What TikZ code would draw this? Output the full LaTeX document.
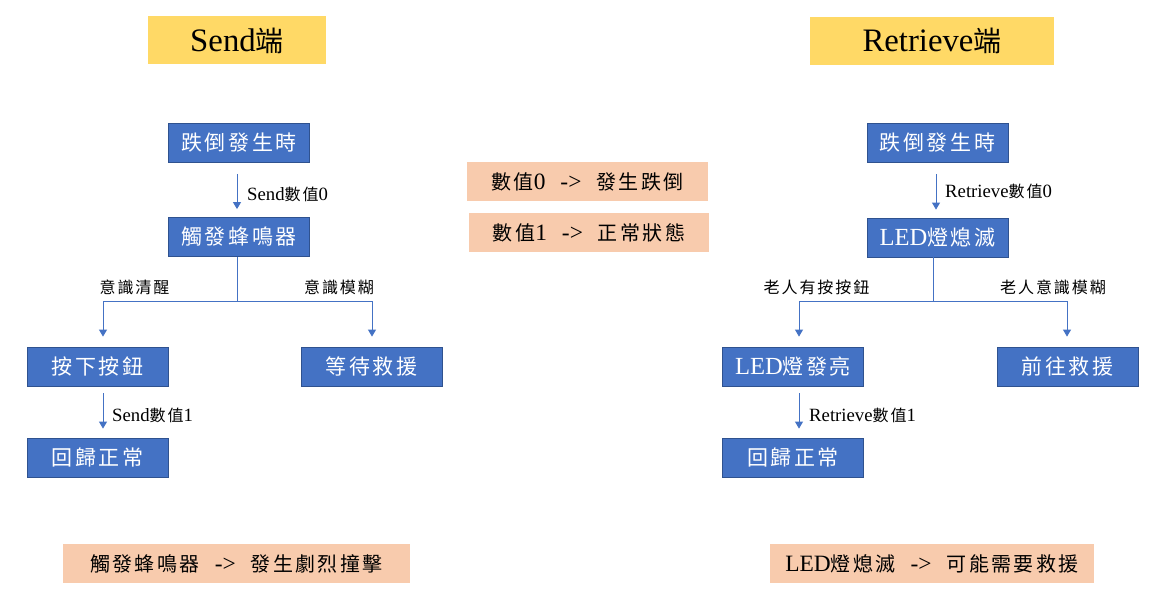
\documentclass[tikz,border=0pt]{standalone}
\usepackage{fontspec}
\setmainfont{Liberation Serif}[Scale=1.17]
\newfontfamily\cj{Noto Sans CJK TC}[LetterSpace=12]
\usetikzlibrary{arrows.meta}
\definecolor{boxblue}{HTML}{4472C4}
\definecolor{edgeblue}{HTML}{2F528F}
\definecolor{titleyellow}{HTML}{FFD966}
\definecolor{notepeach}{HTML}{F8CBAD}
\newcommand{\arrowsep}{\hspace{15pt}->\hspace{15pt}}
\tikzset{
  stepbox/.style={draw=edgeblue, line width=0.8pt, fill=boxblue, text=white,
    minimum width=141pt, minimum height=39pt, inner sep=0pt,
    font=\fontsize{21}{24}\selectfont},
  titlebox/.style={fill=titleyellow, minimum height=48pt, inner sep=0pt,
    font=\fontsize{28}{32}\selectfont},
  notebox/.style={fill=notepeach, minimum height=39pt, inner sep=0pt,
    font=\fontsize{20}{24}\selectfont},
  lbl/.style={inner sep=0pt, font=\fontsize{16}{19}\selectfont},
  conn/.style={draw=boxblue, line width=0.9pt},
  arr/.style={conn, -{Triangle[width=8pt,length=7pt]}}
}
\begin{document}
\begin{tikzpicture}[x=1pt,y=-1pt]
\useasboundingbox (0,0) rectangle (1166,607);

% headings
\node[titlebox, minimum width=178pt] (tsend) at (237,40.5) {Send{\cj 端}};
\node[titlebox, minimum width=244pt] (tret) at (932,41) {Retrieve{\cj 端}};

% Send side
\node[stepbox] (s1) at (239,143) {\cj 跌倒發生時};
\node[stepbox] (s2) at (239,237) {\cj 觸發蜂鳴器};
\node[stepbox] (s3) at (97.5,366.5) {\cj 按下按鈕};
\node[stepbox] (s4) at (371.5,366.5) {\cj 等待救援};
\node[stepbox] (s5) at (97.5,457.5) {\cj 回歸正常};

\coordinate (ssplit) at (237,301);
\draw[arr] ([xshift=-2pt,yshift=-11pt]s1.south) -- ([xshift=-2pt,yshift=8pt]s2.north);
\draw[conn] ([xshift=-2pt]s2.south) -- (ssplit);
\draw[arr] (ssplit) -| ([xshift=5.5pt,yshift=10pt]s3.north);
\draw[arr] (ssplit) -| ([xshift=0.5pt,yshift=10pt]s4.north);
\draw[arr] ([xshift=5.5pt,yshift=-7pt]s3.south) -- ([xshift=5.5pt,yshift=9pt]s5.north);

\node[lbl, anchor=west] (l1) at (247,194) {Send{\cj 數值}0};
\node[lbl] (l2) at (134.5,287) {\cj 意識清醒};
\node[lbl] (l3) at (339,287) {\cj 意識模糊};
\node[lbl, anchor=west] (l4) at (112,415) {Send{\cj 數值}1};

% Retrieve side
\node[stepbox] (r1) at (937.5,143) {\cj 跌倒發生時};
\node[stepbox] (r2) at (937.5,237.5) {LED{\cj 燈熄滅}};
\node[stepbox] (r3) at (793,366.5) {LED{\cj 燈發亮}};
\node[stepbox] (r4) at (1067.5,366.5) {\cj 前往救援};
\node[stepbox] (r5) at (793,457.5) {\cj 回歸正常};

\coordinate (rsplit) at (933,301);
\draw[arr] ([xshift=-1.5pt,yshift=-11pt]r1.south) -- ([xshift=-1.5pt,yshift=8pt]r2.north);
\draw[conn] ([xshift=-4.5pt]r2.south) -- (rsplit);
\draw[arr] (rsplit) -| ([xshift=6pt,yshift=10pt]r3.north);
\draw[arr] (rsplit) -| ([xshift=-0.5pt,yshift=10pt]r4.north);
\draw[arr] ([xshift=6pt,yshift=-7pt]r3.south) -- ([xshift=6pt,yshift=9pt]r5.north);

\node[lbl, anchor=west] (m1) at (945,191) {Retrieve{\cj 數值}0};
\node[lbl] (m2) at (816.5,287) {\cj 老人有按按鈕};
\node[lbl] (m3) at (1053,287) {\cj 老人意識模糊};
\node[lbl, anchor=west] (m4) at (809,415) {Retrieve{\cj 數值}1};

% value legend
\node[notebox, minimum width=241pt] (n1) at (587.5,181.5)
  {{\cj 數值}0\arrowsep{\cj 發生跌倒}};
\node[notebox, minimum width=240pt] (n2) at (589,232.5)
  {{\cj 數值}1\arrowsep{\cj 正常狀態}};
\node[notebox, minimum width=347pt] (n3) at (236.5,563.5)
  {{\cj 觸發蜂鳴器}\arrowsep{\cj 發生劇烈撞擊}};
\node[notebox, minimum width=324pt] (n4) at (932,563.5)
  {LED{\cj 燈熄滅}\arrowsep{\cj 可能需要救援}};
\end{tikzpicture}
\end{document}
